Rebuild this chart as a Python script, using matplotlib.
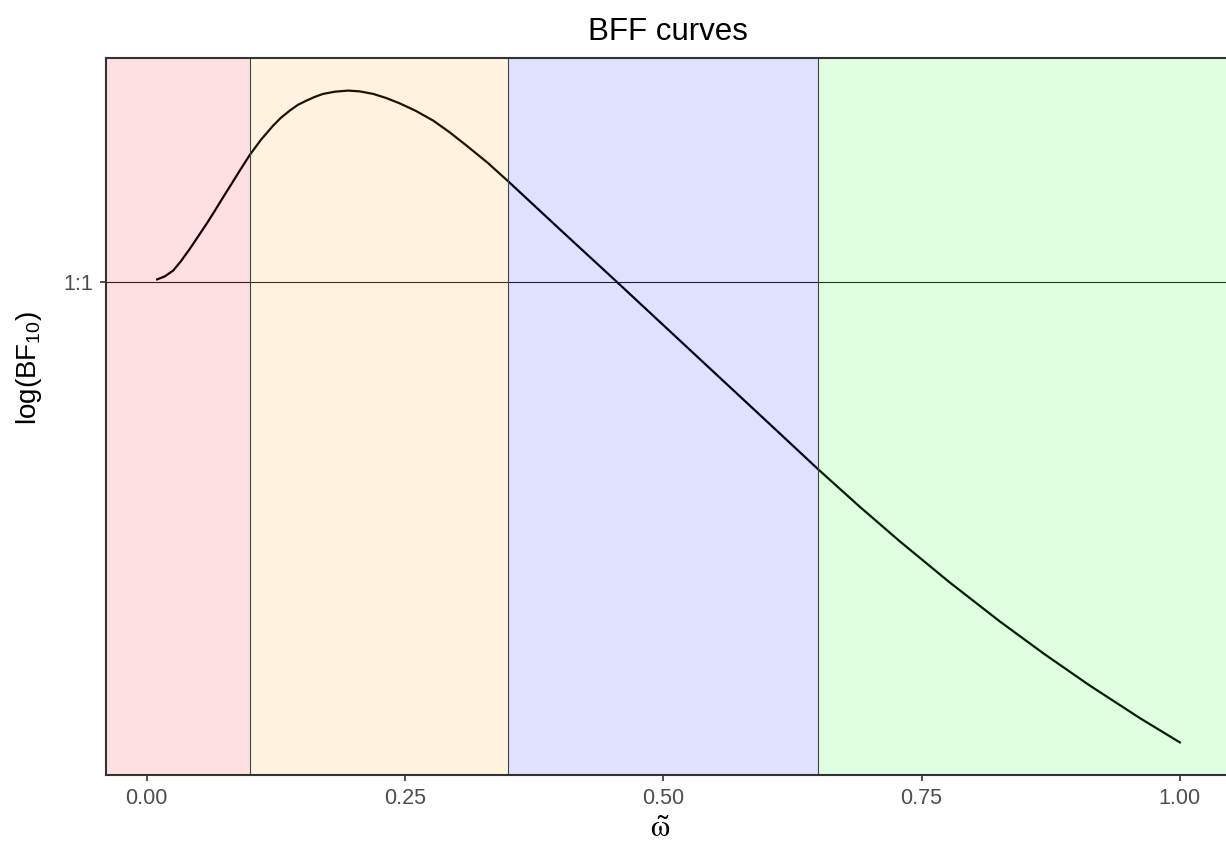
import numpy as np
import matplotlib
matplotlib.use('Agg')
import matplotlib.pyplot as plt
from matplotlib.ticker import FormatStrFormatter

plt.rcParams['font.family'] = ['Liberation Sans', 'DejaVu Sans']
plt.rcParams['mathtext.fontset'] = 'custom'
plt.rcParams['mathtext.rm'] = 'Liberation Sans'
plt.rcParams['mathtext.default'] = 'regular'

# BFF curve (log BF10, 0 = 1:1)
omega = np.array([0.0100, 0.0174, 0.0255, 0.0329, 0.0416, 0.0494, 0.0578, 0.0658,
                  0.0739, 0.0823, 0.0900, 0.0997, 0.1104, 0.1223, 0.1297, 0.1384,
                  0.1462, 0.1546, 0.1626, 0.1707, 0.1820, 0.1949, 0.2062, 0.2191,
                  0.2314, 0.2449, 0.2604, 0.2772, 0.2933, 0.3095, 0.3301, 0.3501,
                  0.3998, 0.4550, 0.5063, 0.5547, 0.6031, 0.6502, 0.6902, 0.7290,
                  0.7773, 0.8257, 0.8693, 0.9129, 0.9613, 1.0000])
log_bf = np.array([0.025, 0.055, 0.113, 0.205, 0.330, 0.450, 0.580, 0.710,
                   0.847, 0.985, 1.113, 1.270, 1.420, 1.563, 1.640, 1.713,
                   1.770, 1.813, 1.850, 1.880, 1.902, 1.913, 1.905, 1.880,
                   1.840, 1.785, 1.710, 1.613, 1.495, 1.363, 1.190, 1.003,
                   0.526, 0.000, -0.493, -0.958, -1.423, -1.877, -2.249, -2.595,
                   -3.006, -3.395, -3.725, -4.037, -4.362, -4.605])

# shaded regions
region_breaks = [0.1, 0.35, 0.65]
region_colors = ['#ff0000', '#ffa500', '#0000ff', '#00ff00']

x_ticks = [0.0, 0.25, 0.5, 0.75, 1.0]
y_ticks = [0]
y_tick_labels = ['1:1']

fig = plt.figure(figsize=(12.26, 8.44), dpi=100)
ax = fig.add_axes([106/1226, 1-775/844, 1125/1226, 717/844])

span = omega.max() - omega.min()
xlo, xhi = omega.min() - 0.05*span, omega.max() + 0.05*span

ax.axhline(0, color='#222222', lw=0.8, zorder=1)
ax.plot(omega, log_bf, color='black', lw=1.6, zorder=2, solid_joinstyle='round')

edges = [xlo] + region_breaks + [xhi]
for i, c in enumerate(region_colors):
    ax.axvspan(edges[i], edges[i+1], facecolor=c, alpha=0.12, lw=0, zorder=3)
for b in region_breaks:
    ax.axvline(b, color='#444444', lw=0.8, zorder=4)

ax.set_xlim(xlo, xhi)
ax.set_xticks(x_ticks)
ax.xaxis.set_major_formatter(FormatStrFormatter('%.2f'))
ax.set_yticks(y_ticks)
ax.set_yticklabels(y_tick_labels)

for s in ['left', 'bottom', 'top']:
    ax.spines[s].set_color('#333333')
    ax.spines[s].set_linewidth(1.5)
    ax.spines[s].set_zorder(5)
ax.spines['right'].set_visible(False)

ax.tick_params(colors='#333333', labelcolor='#4d4d4d', labelsize=15.5,
               length=4, width=1.2, pad=5)

ax.set_ylabel(r'log(BF$_{10}$)', fontsize=20)
ax.yaxis.set_label_coords((44-106)/1125, (775-368)/717)
ax.set_xlabel(r'$\tilde{\mathrm{\omega}}$', fontsize=22, math_fontfamily='stix')
ax.xaxis.set_label_coords((660-106)/1125, -(814-775)/717)
fig.text(668/1226, 1-32/844, 'BFF curves', ha='center', va='center', fontsize=22.5)

fig.savefig('out.png', dpi=100)
